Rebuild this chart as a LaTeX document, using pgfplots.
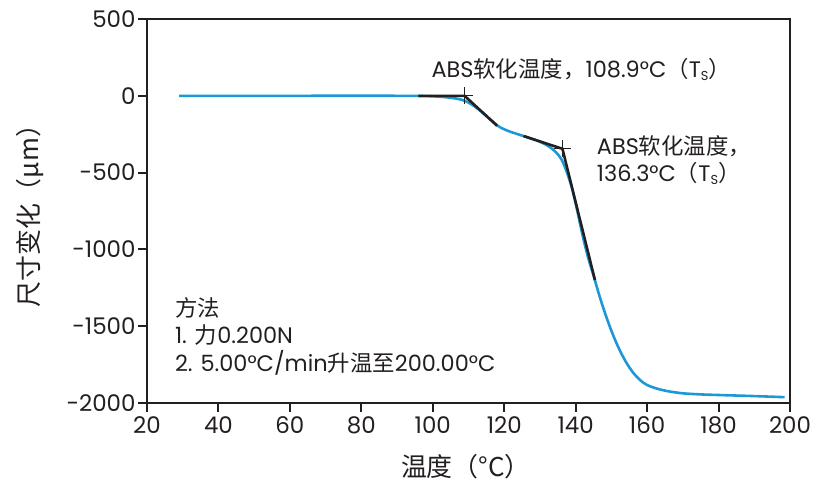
\documentclass[border=0pt]{standalone}
\usepackage{fontspec}
\setmainfont{Poppins}
\newfontfamily\cjk{Noto Sans CJK SC}
\usepackage{pgfplots}
\pgfplotsset{compat=1.18}
\definecolor{curveblue}{RGB}{27,152,214}
\definecolor{txt}{RGB}{35,31,32}
\newcommand{\lat}{\fontsize{22.5}{24}\selectfont}
\newcommand{\han}{\cjk\fontsize{22.5}{24}\selectfont}
\newcommand{\Ts}{T\raisebox{-0.25ex}{\fontsize{13}{13}\selectfont S}}
\begin{document}
\begin{tikzpicture}
\begin{axis}[
  scale only axis, width=643bp, height=384bp,
  xmin=20, xmax=200, ymin=-2000, ymax=500,
  xtick={20,40,...,200}, ytick={-2000,-1500,...,500},
  tick pos=left, tick align=outside,
  major tick length=9bp,
  every tick/.style={line width=2pt, txt},
  axis line style={line width=2pt, txt},
  /pgf/number format/assume math mode=true,
  /pgf/number format/1000 sep={},
  ticklabel style={font=\fontsize{23}{24}\selectfont, text=txt},
  yticklabel style={xshift=1bp},
  xticklabel style={yshift=-1bp},
  xlabel={\fontsize{26}{28}\selectfont\cjk 温度（°C）},
  ylabel={\fontsize{26}{28}\selectfont\cjk 尺寸变化（μm）},
  label style={text=txt},
  xlabel style={at={(axis description cs:0.496,-0.167)}, anchor=center},
  ylabel style={at={(axis description cs:-0.182,0.503)}, anchor=center, rotate=0},
  clip=false,
]
\addplot[curveblue, line width=2.6pt, smooth, tension=0.5] coordinates {
(29,0)(60,0)(90,0)(98,-2)(102,-6)(105,-13)(107,-20)(109,-33)(111,-58)(113,-92)(115,-132)(117,-172)(118,-192)(119,-207)(121,-228)(123,-244)(125,-259)(127,-274)(129,-290)(131,-310)(133,-338)(134.5,-368)(136,-413)(137.5,-495)(139,-605)(140.5,-755)(142,-915)(143.5,-1055)(145,-1170)(146.5,-1290)(148,-1400)(150,-1530)(152,-1640)(154,-1730)(156,-1800)(158,-1850)(160,-1883)(163,-1908)(166,-1924)(170,-1937)(175,-1944)(180,-1948)(190,-1955)(198.5,-1962)
};
\addplot[txt, line width=2.6pt] coordinates {(96,0)(108.9,0)(118,-195)};
\addplot[txt, line width=2.6pt] coordinates {(125.4,-262)(136.3,-345)(145.4,-1200)};
\addplot[only marks, mark=+, mark size=8.5bp, txt, mark options={line width=1pt}] coordinates {(108.9,0)(136.3,-345)};
\node[anchor=base west, inner sep=0pt, text=txt] at (axis cs:99.6,122) {\lat ABS{\han 软化温度，}108.9°C{\han （}\Ts{\han ）}};
\node[anchor=base west, inner sep=0pt, text=txt] at (axis cs:145.9,-385) {\lat ABS{\han 软化温度，}};
\node[anchor=base west, inner sep=0pt, text=txt] at (axis cs:145.9,-560) {\lat 136.3°C{\han （}\Ts{\han ）}};
\node[anchor=base west, inner sep=0pt, text=txt] at (axis cs:27.8,-1434) {\han 方法};
\node[anchor=base west, inner sep=0pt, text=txt] at (axis cs:27.8,-1610) {\lat 1. {\han 力}0.200N};
\node[anchor=base west, inner sep=0pt, text=txt] at (axis cs:27.8,-1792) {\lat 2. 5.00°C/min{\han 升温至}200.00°C};
\end{axis}
\pgfresetboundingbox
\path ([xshift=-147bp,yshift=-78bp]current axis.south west) rectangle ([xshift=42bp,yshift=19bp]current axis.north east);
\end{tikzpicture}
\end{document}
